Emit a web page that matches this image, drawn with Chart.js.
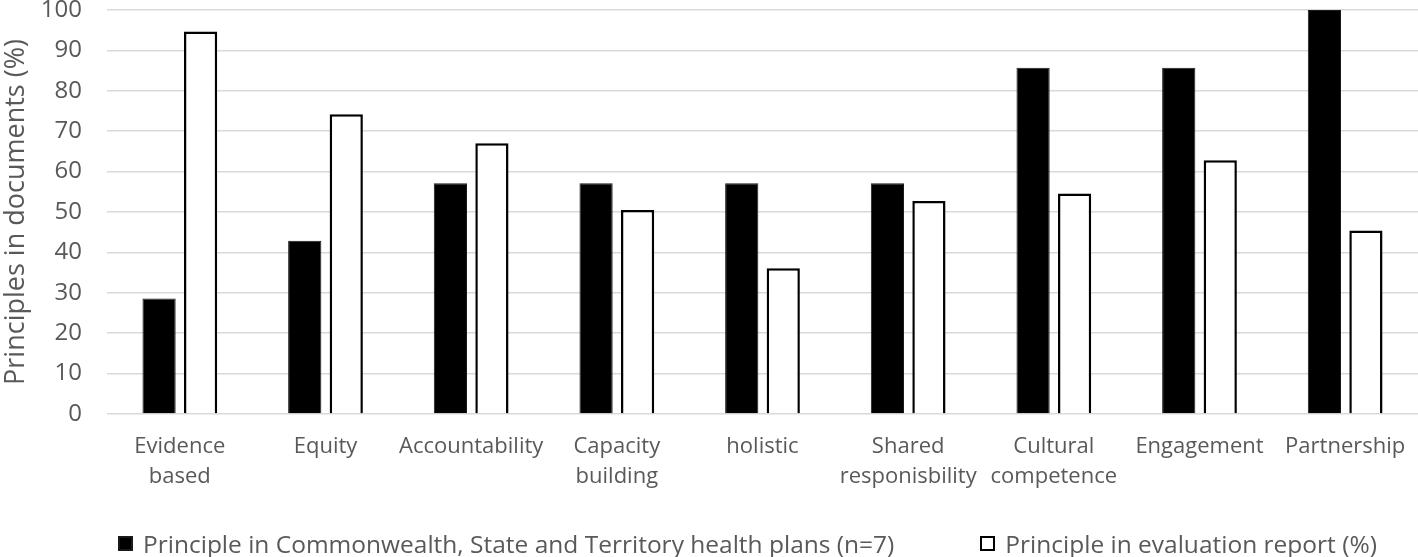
<!DOCTYPE html>
<html>
<head>
<meta charset="utf-8">
<script src="https://cdn.jsdelivr.net/npm/chart.js@4.4.1/dist/chart.umd.min.js"></script>
<style>
  body { margin: 0; background: #fff; }
  #wrap { position: relative; width: 1418px; height: 557px; }
  #legend {
    position: absolute; left: 118px; top: 528px; height: 30px;
    display: flex; align-items: center;
    font-family: "Open Sans", sans-serif; font-size: 24.5px; color: #595959;
    white-space: nowrap;
  }
  .item { display: flex; align-items: center; margin-right: 86px; }
  .box { width: 15px; height: 15px; box-sizing: border-box; margin-right: 10px; }
</style>
</head>
<body>
<div id="wrap">
  <canvas id="chart"></canvas>
  <div id="legend"></div>
</div>
<script>
const principles = [
    ['Evidence', 'based'], 'Equity', 'Accountability', ['Capacity', 'building'], 'holistic',
    ['Shared', 'responisbility'], ['Cultural', 'competence'], 'Engagement', 'Partnership'
];
const healthPlans = [28.6, 42.9, 57.1, 57.1, 57.1, 57.1, 85.7, 85.7, 100];
const evaluationReport = [94.7, 74.2, 67.0, 50.5, 36.1, 52.7, 54.6, 62.8, 45.4];
const yTicks = [0, 10, 20, 30, 40, 50, 60, 70, 80, 90, 100];

const textGray = '#595959';
const fontName = '"Open Sans", sans-serif';

const data = {
    labels: principles,
    datasets: [{
            label: 'Principle in Commonwealth, State and Territory health plans (n=7)',
            data: healthPlans,
            backgroundColor: '#000000',
            borderColor: '#1a1a1a',
            borderWidth: 1,
            categoryPercentage: 0.57,
            barPercentage: 0.8
        }, {
            label: 'Principle in evaluation report (%)',
            data: evaluationReport,
            backgroundColor: '#ffffff',
            borderColor: '#000000',
            borderWidth: 2.5,
            categoryPercentage: 0.57,
            barPercentage: 0.8
        }]
};

const config = {
    type: 'bar',
    data: data,
    options: {
        responsive: true,
        maintainAspectRatio: false,
        animation: false,
        layout: { autoPadding: false, padding: { top: 10, right: 0, bottom: 53, left: 0 } },
        plugins: {
            tooltip: { enabled: false },
            legend: { display: false }
        },
        scales: {
            x: {
                afterFit: (s) => { s.height = 90; },
                grid: { display: false },
                border: { display: false },
                ticks: {
                    color: textGray,
                    font: { family: fontName, size: 22, lineHeight: 1.36 },
                    maxRotation: 0,
                    autoSkip: false,
                    padding: 10
                }
            },
            y: {
                min: 0,
                max: 100,
                afterFit: (s) => { s.width = 107; },
                afterBuildTicks: (s) => { s.ticks = yTicks.map(v => ({ value: v })); },
                // invisible tick marks push the labels left without padding the top
                grid: { color: '#d9d9d9', lineWidth: 1.5, drawTicks: true, tickLength: 25, tickColor: 'rgba(0,0,0,0)' },
                border: { display: false },
                ticks: {
                    color: textGray,
                    font: { family: fontName, size: 24, lineHeight: 0.8 },
                    padding: 0
                },
                title: {
                    display: true,
                    text: 'Principles in documents (%)',
                    color: textGray,
                    font: { family: fontName, size: 27 },
                    padding: 0
                }
            }
        }
    }
};

const ctx = document.getElementById('chart').getContext('2d');
const chart = new Chart(ctx, config);

// html legend built from the datasets
const legend = document.getElementById('legend');
chart.data.datasets.forEach(ds => {
    const item = document.createElement('div');
    item.className = 'item';
    const box = document.createElement('span');
    box.className = 'box';
    box.style.background = ds.backgroundColor;
    box.style.border = '2px solid ' + ds.borderColor;
    const text = document.createElement('span');
    text.textContent = ds.label;
    item.appendChild(box);
    item.appendChild(text);
    legend.appendChild(item);
});
</script>
</body>
</html>
